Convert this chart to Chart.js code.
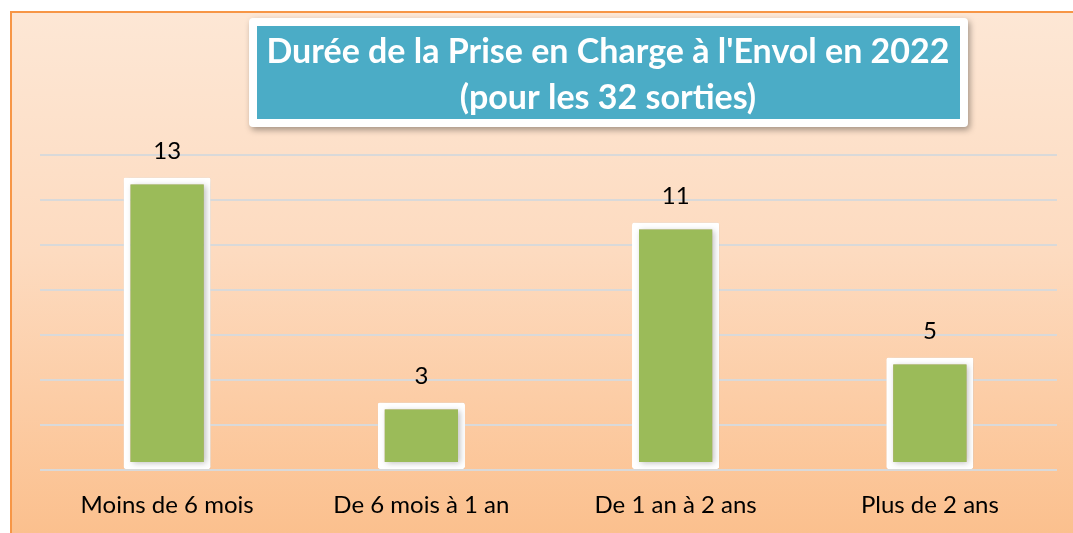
<!DOCTYPE html>
<html>
<head>
<meta charset="utf-8">
<script src="https://cdn.jsdelivr.net/npm/chart.js@4"></script>
<style>
  body { margin: 0; background: #fff; overflow: hidden; }
  .frame {
    position: absolute; left: 10px; top: 11px; width: 1070px; height: 530px;
    border-left: 2px solid #F79646; border-top: 2px solid #F79646;
    background: linear-gradient(to bottom, #FDE7D5 0%, #FDDBC0 45%, #FBBF8C 100%);
  }
  #wrap { position: absolute; left: 0; top: 0; width: 1073px; height: 533px; }
</style>
</head>
<body>
<div class="frame"></div>
<div id="wrap"><canvas id="myChart"></canvas></div>
<script>
const categories = ['Moins de 6 mois', 'De 6 mois à 1 an', 'De 1 an à 2 ans', 'Plus de 2 ans']
const sorties = [13, 3, 11, 5]
const titleLines = ["Durée de la Prise en Charge à l'Envol en 2022", '(pour les 32 sorties)']
const FONT = 'Lato, "Liberation Sans", sans-serif'

// title box drawn over the plot, teal panel with a white frame
const titleBox = {
    id: 'titleBox',
    afterDraw(chart) {
        const ctx = chart.ctx
        ctx.save()
        ctx.shadowColor = 'rgba(0,0,0,0.35)'
        ctx.shadowBlur = 6
        ctx.shadowOffsetX = 2
        ctx.shadowOffsetY = 3
        ctx.fillStyle = '#fff'
        ctx.beginPath()
        ctx.roundRect(249, 18, 719, 109, 4)
        ctx.fill()
        ctx.restore()
        ctx.save()
        ctx.fillStyle = '#4BACC6'
        ctx.fillRect(257, 26, 703, 93)
        ctx.fillStyle = '#fff'
        ctx.font = 'bold 34px ' + FONT
        ctx.textAlign = 'center'
        ctx.textBaseline = 'middle'
        ctx.fillText(titleLines[0], 608, 52)
        ctx.fillText(titleLines[1], 608, 98)
        ctx.restore()
    }
}

// soft shadow behind the bars
const barShadow = {
    id: 'barShadow',
    beforeDatasetsDraw(chart) {
        const ctx = chart.ctx
        ctx.save()
        ctx.shadowColor = 'rgba(0,0,0,0.25)'
        ctx.shadowBlur = 6
        ctx.shadowOffsetX = 2
        ctx.shadowOffsetY = 1
    },
    afterDatasetsDraw(chart) {
        chart.ctx.restore()
    }
}

// value on top of each bar
const valueLabels = {
    id: 'valueLabels',
    afterDatasetsDraw(chart) {
        const ctx = chart.ctx
        const meta = chart.getDatasetMeta(0)
        ctx.save()
        ctx.font = '24px ' + FONT
        ctx.fillStyle = '#000'
        ctx.textAlign = 'center'
        ctx.textBaseline = 'middle'
        meta.data.forEach((bar, i) => {
            ctx.fillText(String(sorties[i]), bar.x, bar.y - 26)
        })
        ctx.restore()
    }
}

var ctx = document.getElementById('myChart').getContext('2d');
var myChart = new Chart(ctx, {
    type: 'bar',
    data: {
        labels: categories,
        datasets: [{
            data: sorties,
            backgroundColor: '#9BBB59',
            borderColor: '#ffffff',
            borderWidth: 7,
            borderSkipped: false,
            borderRadius: 2,
            barPercentage: 0.343,
            categoryPercentage: 1
        }]
    },
    plugins: [barShadow, valueLabels, titleBox],
    options: {
        responsive: true,
        maintainAspectRatio: false,
        animation: false,
        devicePixelRatio: 1,
        plugins: {
            legend: {display: false},
            tooltip: {enabled: false}
        },
        layout: {
            padding: {left: 40, right: 16, top: 155, bottom: 0}
        },
        scales: {
            y: {
                min: 0,
                max: 14,
                ticks: {display: false, stepSize: 2},
                border: {display: false},
                grid: {color: '#D9D9D9', lineWidth: 2, drawTicks: false},
                afterFit(scale) { scale.width = 0 }
            },
            x: {
                grid: {display: false, drawTicks: false},
                border: {display: false},
                ticks: {
                    font: {family: FONT, size: 24},
                    color: '#000',
                    padding: 21
                },
                afterFit(scale) { scale.height = 63 }
            }
        }
    }
});
</script>
</body>
</html>
